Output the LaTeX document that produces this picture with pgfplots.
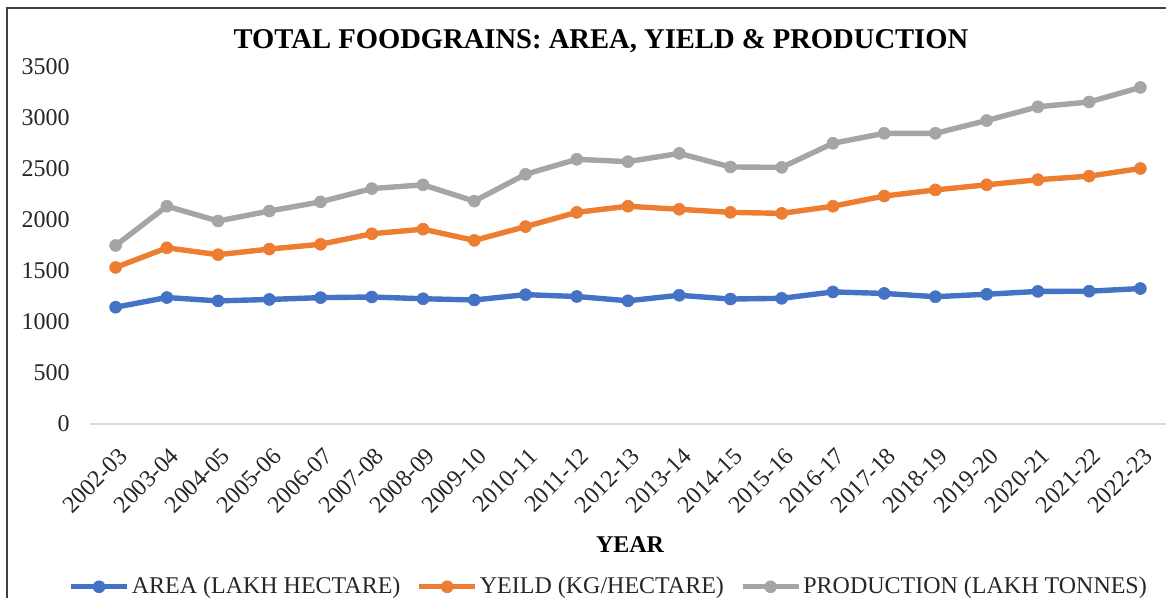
\documentclass[border=0pt]{standalone}
\usepackage{fontspec}
\setmainfont{Liberation Serif}
\usepackage{pgfplots}
\usepackage{pgfplotstable}
\pgfplotsset{compat=1.18}
\definecolor{cblue}{HTML}{4472C4}
\definecolor{corange}{HTML}{ED7D31}
\definecolor{cgray}{HTML}{A5A5A5}
\definecolor{cgrid}{HTML}{D9D9D9}
\pgfplotstableread{
x area yield prod
0 1145 1535 1750
1 1240 1727 2135
2 1207 1660 1990
3 1221 1715 2088
4 1239 1762 2178
5 1245 1865 2308
6 1228 1910 2345
7 1216 1800 2185
8 1268 1935 2448
9 1250 2075 2595
10 1208 2135 2572
11 1262 2105 2653
12 1225 2075 2520
13 1232 2065 2516
14 1295 2135 2752
15 1280 2235 2850
16 1248 2295 2850
17 1272 2345 2975
18 1300 2395 3110
19 1302 2430 3157
20 1328 2505 3300
}\datatable
\begin{document}
\begin{tikzpicture}
\useasboundingbox (0,0) rectangle (583bp,299bp);
\draw[line width=1bp, black!75] (3.5bp,0) -- (3.5bp,295bp) -- (583bp,295bp);
\node[font=\fontsize{14.3bp}{16bp}\selectfont\bfseries] at (300.5bp,278.5bp) {TOTAL FOODGRAINS: AREA, YIELD \& PRODUCTION};
\node[font=\fontsize{12bp}{14bp}\selectfont\bfseries] at (315bp,26.5bp) {YEAR};
\begin{axis}[
  at={(45bp,87bp)}, anchor=south west,
  scale only axis, width=538bp, height=178.5bp,
  xmin=-0.5, xmax=20.5, ymin=0, ymax=3500,
  clip=false,
  axis x line*=bottom, axis y line*=left,
  axis line style={-},
  x axis line style={cgrid, line width=0.75bp},
  y axis line style={draw=none},
  major tick length=0pt,
  xtick={0,...,20},
  xticklabels={2002-03,2003-04,2004-05,2005-06,2006-07,2007-08,2008-09,2009-10,2010-11,2011-12,2012-13,2013-14,2014-15,2015-16,2016-17,2017-18,2018-19,2019-20,2020-21,2021-22,2022-23},
  ytick={0,500,...,3500},
  /pgf/number format/assume math mode=true,
  /pgf/number format/1000 sep={},
  tick label style={font=\fontsize{12bp}{14bp}\selectfont, text=black!85},
  yticklabel style={anchor=east, inner sep=0pt, xshift=-10bp},
  xticklabel style={inner sep=0pt, yshift=-11bp, xshift=1bp, rotate=45, anchor=north east},
  legend style={at={(0.482,-0.456)}, anchor=center, draw=none, fill=none,
    font=\fontsize{12bp}{14bp}\selectfont, text=black!85,
    /tikz/every even column/.append style={column sep=7bp},
    nodes={inner sep=1bp}},
  legend columns=3,
  legend cell align=left,
  legend image code/.code={\draw[#1, mark repeat=2, mark phase=2] plot coordinates {(0bp,0bp) (14bp,0bp) (28bp,0bp)};},
]
\addplot[cblue, line width=2.7bp, mark=*, mark size=3bp, mark options={solid, fill=cblue, line width=0.3bp}] table[x=x, y=area] {\datatable};
\addlegendentry{AREA (LAKH HECTARE)}
\addplot[corange, line width=2.7bp, mark=*, mark size=3bp, mark options={solid, fill=corange, line width=0.3bp}] table[x=x, y=yield] {\datatable};
\addlegendentry{YEILD (KG/HECTARE)}
\addplot[cgray, line width=2.7bp, mark=*, mark size=3bp, mark options={solid, fill=cgray, line width=0.3bp}] table[x=x, y=prod] {\datatable};
\addlegendentry{PRODUCTION (LAKH TONNES)}
\end{axis}
\end{tikzpicture}
\end{document}
